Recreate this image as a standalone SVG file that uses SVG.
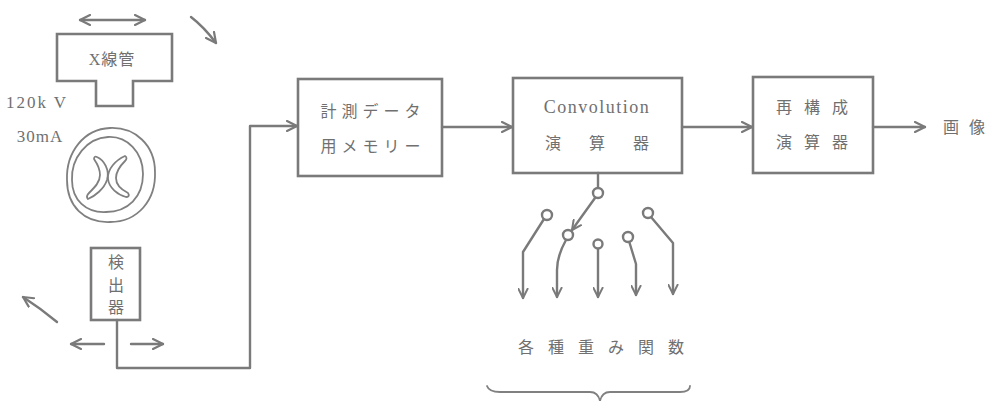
<svg xmlns="http://www.w3.org/2000/svg" width="996" height="401" viewBox="0 0 996 401">
  <style>
    .ln { fill: none; stroke: #7a7a7a; stroke-width: 2.4; stroke-linecap: round; stroke-linejoin: round; }
    .thin { fill: none; stroke: #808080; stroke-width: 1.8; stroke-linecap: round; stroke-linejoin: round; }
    .box { fill: #ffffff; stroke: #7a7a7a; stroke-width: 2.6; }
    .jp { font-family: "Liberation Serif", "Noto Sans CJK JP", serif; fill: #707070; font-size: 16px; text-anchor: middle; dominant-baseline: central; }
    .lat { font-family: "Liberation Serif", serif; fill: #707070; text-anchor: middle; dominant-baseline: central; }
    .sw { fill: #ffffff; stroke: #7a7a7a; stroke-width: 2.4; }
  </style>
  <defs>
    <marker id="vee" viewBox="0 0 12 12" refX="11" refY="6" markerWidth="12" markerHeight="12" markerUnits="userSpaceOnUse" orient="auto-start-reverse">
      <path d="M1,1 L11,6 L1,11" fill="none" stroke="#7a7a7a" stroke-width="2.2" stroke-linecap="round" stroke-linejoin="round"/>
    </marker>
    <marker id="veeS" viewBox="0 0 12 12" refX="11" refY="6" markerWidth="11" markerHeight="11" markerUnits="userSpaceOnUse" orient="auto">
      <path d="M1,1 L11,6 L1,11" fill="none" stroke="#7a7a7a" stroke-width="2.2" stroke-linecap="round" stroke-linejoin="round"/>
    </marker>
  </defs>
  <rect width="996" height="401" fill="#ffffff"/>

  <!-- X-ray tube -->
  <g id="xray-tube">
    <path class="box" d="M57,34 H172 V81 H133 V106 H96 V81 H57 Z"/>
    <text class="jp" x="112" y="59" font-size="19" letter-spacing="1">X線管</text>
  </g>

  <!-- motion hints around the gantry -->
  <g id="motion">
    <path class="ln" d="M80,20 H145" marker-start="url(#vee)" marker-end="url(#vee)"/>
    <path class="ln" d="M191,17 Q204,27 216,43" marker-end="url(#vee)"/>
    <path class="ln" d="M57,322 Q40,308 23,297" marker-end="url(#vee)"/>
    <path class="ln" d="M104,344 H71" marker-end="url(#vee)"/>
    <path class="ln" d="M131,344 H163" marker-end="url(#vee)"/>
  </g>

  <!-- tube settings -->
  <g id="settings">
    <text class="lat" x="37" y="102" font-size="17" letter-spacing="2">120k V</text>
    <text class="lat" x="40" y="136" font-size="17" letter-spacing="1">30mA</text>
  </g>

  <!-- subject cross-section: body outline, inner ring, two lobes -->
  <g id="phantom">
    <path class="thin" d="M110,128 C135,127 155,145 155,172 C156,200 138,222 110,222 C84,223 67,206 67,180 C66,152 84,129 110,128 Z"/>
    <path class="thin" d="M108,137 C127,136 143,152 143,174 C143,197 128,212 106,212 C86,213 72,200 72,180 C71,158 87,138 108,137 Z"/>
    <path class="thin" d="M97,157 C104,160 110,170 107,180 C104,189 95,196 88,199 C86,197 87,195 89,193 C95,187 100,182 100,175 C100,167 96,162 94,159 C94,157 95,156 97,157 Z"/>
    <path class="thin" d="M125,156 C127,157 127,159 125,161 C119,167 116,172 116,178 C116,185 122,190 128,193 C130,196 128,197 126,197 C118,195 109,188 108,179 C107,169 116,160 125,156 Z"/>
  </g>

  <!-- detector -->
  <g id="detector">
    <rect class="box" x="91" y="248" width="49" height="72"/>
    <text class="jp" x="116" y="262" font-size="15">検</text>
    <text class="jp" x="116" y="285" font-size="15">出</text>
    <text class="jp" x="116" y="307" font-size="15">器</text>
  </g>

  <!-- processing blocks -->
  <g id="memory">
    <rect class="box" x="298" y="79" width="144" height="97"/>
    <text class="jp" x="373" y="111" font-size="17" letter-spacing="5">計測データ</text>
    <text class="jp" x="373" y="146" font-size="17" letter-spacing="5">用メモリー</text>
  </g>
  <g id="convolution">
    <rect class="box" x="513" y="78" width="169" height="95"/>
    <text class="lat" x="597" y="107" font-size="18" letter-spacing="1.5">Convolution</text>
    <text class="jp" x="611" y="143" font-size="17" letter-spacing="28">演算器</text>
  </g>
  <g id="reconstruction">
    <rect class="box" x="753" y="77" width="120" height="96"/>
    <text class="jp" x="818" y="107" font-size="17" letter-spacing="12">再構成</text>
    <text class="jp" x="818" y="142" font-size="17" letter-spacing="12">演算器</text>
  </g>
  <g id="image-out">
    <text class="jp" x="969" y="127" font-size="16" letter-spacing="10">画像</text>
  </g>

  <!-- weighting-function selector -->
  <g id="selector">
    <path class="ln" d="M598,173 V188"/>
    <path class="ln" d="M595,198 L572,230" marker-end="url(#veeS)"/>
    <path class="ln" d="M544,219 L523,252 V298" marker-end="url(#veeS)"/>
    <path class="ln" d="M566,240 Q557,256 557,270 V297" marker-end="url(#veeS)"/>
    <path class="ln" d="M598,248 V297" marker-end="url(#veeS)"/>
    <path class="ln" d="M629,241 L636,264 V295" marker-end="url(#veeS)"/>
    <path class="ln" d="M651,217 L673,243 V294" marker-end="url(#veeS)"/>
    <circle class="sw" cx="598" cy="193" r="5"/>
    <circle class="sw" cx="547" cy="215" r="5"/>
    <circle class="sw" cx="568" cy="235" r="5"/>
    <circle class="sw" cx="598" cy="244" r="4.5"/>
    <circle class="sw" cx="628" cy="237" r="5"/>
    <circle class="sw" cx="648" cy="213" r="5"/>
    <text class="jp" x="608" y="347" font-size="16" letter-spacing="14">各種重み関数</text>
    <path class="thin" d="M487,386 Q489,392 500,392 H590 Q598,392 600,401 Q602,392 610,392 H680 Q690,392 690,386"/>
  </g>

  <!-- signal connectors -->
  <g id="connectors">
    <path class="ln" d="M117,320 V368 H250 V126 H297" marker-end="url(#vee)"/>
    <path class="ln" d="M442,127 H512" marker-end="url(#vee)"/>
    <path class="ln" d="M682,127 H752" marker-end="url(#vee)"/>
    <path class="ln" d="M873,127 H925" marker-end="url(#vee)"/>
  </g>
</svg>
